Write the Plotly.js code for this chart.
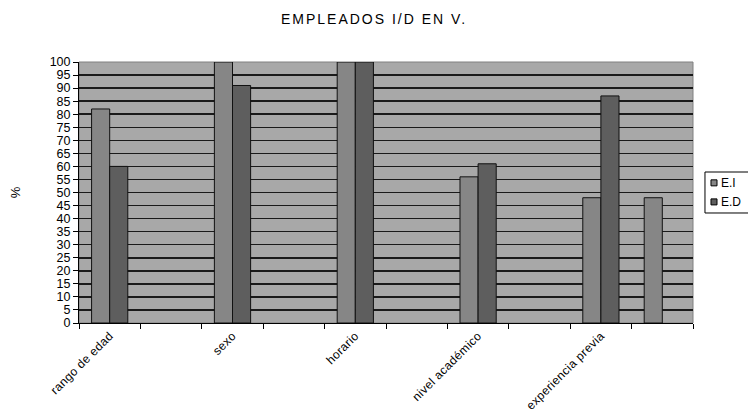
<!DOCTYPE html>
<html><head><meta charset="utf-8">
<script src="https://cdn.plot.ly/plotly-3.0.1.min.js"></script>
<style>
body{margin:0;background:#fff}
#c{width:748px;height:414px}
#c .gtitle{letter-spacing:2px}
#c .xtick text{letter-spacing:0.4px}
</style>
</head><body><div id="c"></div>
<script>
const slots = ["c1","c2","c3","c4","c5","c6","c7","c8","c9","c10"];
const slotLabels = ["rango de edad","","sexo","","horario","","nivel académico","","experiencia previa",""];
const valuesEI = [82, null, 100, null, 100, null, 56, null, 48, 48];
const valuesED = [60, null, 91, null, 100, null, 61, null, 87, null];
const seriesNames = ["E.I","E.D"];
const seriesColors = ["#868686","#5e5e5e"];
const yTicks = [0,5,10,15,20,25,30,35,40,45,50,55,60,65,70,75,80,85,90,95,100];

const fam = "Liberation Sans, Arial, sans-serif";
const data = [
  {type:"bar", name:seriesNames[0], x:slots, y:valuesEI,
   marker:{color:seriesColors[0], line:{color:"#111", width:1}}},
  {type:"bar", name:seriesNames[1], x:slots, y:valuesED,
   marker:{color:seriesColors[1], line:{color:"#111", width:1}}}
];

// custom Excel-style legend (box partially off the right edge, as in the reference)
const legShapes = [
  {type:"rect", xref:"paper", yref:"paper", x0:1.0195, x1:1.12, y0:0.4215, y1:0.5785,
   line:{color:"#000", width:1}, fillcolor:"#fff"}
];
const legAnn = [];
const legY = [0.537, 0.464];
seriesNames.forEach((n,i)=>{
  legShapes.push({type:"rect", xref:"paper", yref:"paper",
    x0:1.0293, x1:1.0391, y0:legY[i]-0.0115, y1:legY[i]+0.0115,
    line:{color:"#000", width:1}, fillcolor:seriesColors[i]});
  legAnn.push({xref:"paper", yref:"paper", x:1.0425, y:legY[i], xanchor:"left", yanchor:"middle",
    text:n, showarrow:false, font:{family:fam, size:12, color:"#000"}});
});

const layout = {
  width:748, height:414,
  margin:{l:79, r:55, t:62, b:91, autoexpand:false},
  paper_bgcolor:"#fff", plot_bgcolor:"#a8a8a8",
  font:{family:fam, size:12, color:"#000"},
  title:{text:"EMPLEADOS I/D EN V.", x:0.5, xref:"container", xanchor:"center", y:0.955, yanchor:"middle",
         font:{family:fam, size:14, color:"#000"}},
  barmode:"group", bargap:0.41, bargroupgap:0,
  showlegend:false,
  xaxis:{type:"category", categoryorder:"array", categoryarray:slots,
         tickmode:"array", tickvals:slots, ticktext:slotLabels,
         tickson:"boundaries", ticks:"outside", ticklen:5, tickcolor:"#000",
         tickangle:-45, showgrid:false, showline:true, linecolor:"#000", linewidth:1,
         tickfont:{family:fam, size:12}},
  yaxis:{range:[0,100], tickmode:"array", tickvals:yTicks, ticks:"outside", ticklen:5,
         tickcolor:"#000", showgrid:true, gridcolor:"#1a1a1a", gridwidth:1.5,
         showline:true, linecolor:"#000", linewidth:1, zeroline:false,
         tickfont:{family:fam, size:12.5},
         title:{text:"%", standoff:26, font:{family:fam, size:13}}},
  shapes:[{type:"rect", xref:"paper", yref:"paper", x0:0, x1:1, y0:0, y1:1,
           line:{color:"#808080", width:1}, fillcolor:"rgba(0,0,0,0)", layer:"below"}].concat(legShapes),
  annotations:legAnn
};
Plotly.newPlot("c", data, layout, {displayModeBar:false, staticPlot:true});
</script></body></html>
